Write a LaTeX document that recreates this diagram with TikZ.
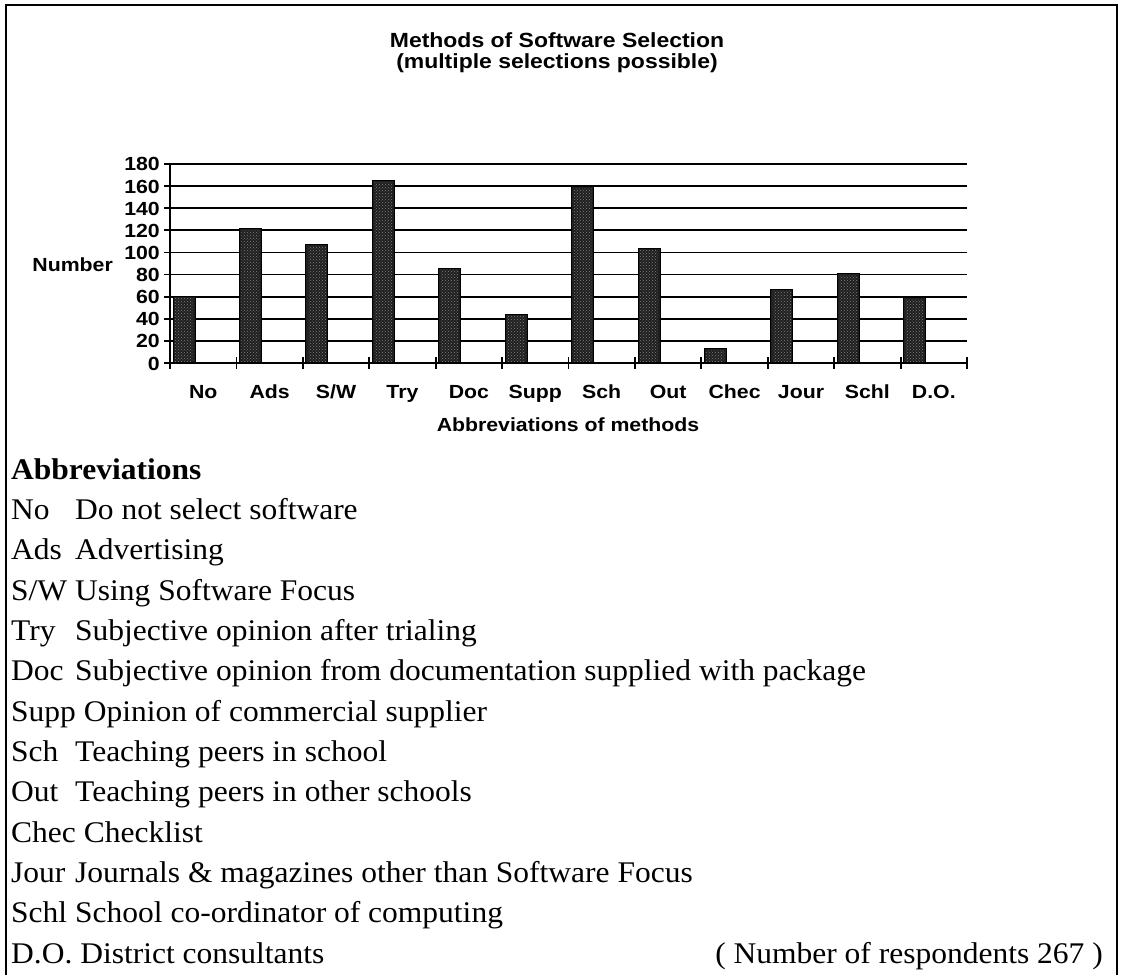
\documentclass[tikz,border=0pt]{standalone}
\usepackage{fontspec}
\setmainfont{Liberation Serif}[FakeStretch=1.05]
\newfontfamily\chartfont{Liberation Sans}[FakeStretch=1.12]
\usetikzlibrary{patterns}
\tikzset{
  frame/.style={line width=2pt},
  grid/.style={line width=1.8pt},
  bar/.style={fill=black!88, draw=black, line width=0.8pt},
  bartex/.style={pattern=crosshatch dots, pattern color=black!50},
  charttext/.style={font=\chartfont\bfseries\fontsize{19}{22}\selectfont, inner sep=0pt},
  titletext/.style={font=\chartfont\bfseries\fontsize{20.5}{23}\selectfont, inner sep=0pt, anchor=base},
  legtext/.style={font=\fontsize{30}{34}\selectfont, inner sep=0pt, anchor=base west},
  leghead/.style={font=\bfseries\fontsize{30}{34}\selectfont, inner sep=0pt, anchor=base west},
}
\begin{document}
\begin{tikzpicture}[x=1pt,y=-1pt]
\useasboundingbox (0,0) rectangle (1123,975);
\fill[white] (0,0) rectangle (1123,975);
% frame
\draw[frame] (6,975) -- (6,5) -- (1117,5) -- (1117,975);
% title
\node[titletext] (t1) at (557,47) {Methods of Software Selection};
\node[titletext] (t2) at (557,68) {(multiple selections possible)};
% grid
\foreach \v in {20,40,...,180}{
  \draw[grid] (170,{363-\v*1.1056}) -- (967,{363-\v*1.1056});
}
\foreach \v in {0,20,...,180}{
  \draw[grid] (164,{363-\v*1.1056}) -- (170,{363-\v*1.1056});
  \node[charttext, anchor=base east] (yl\v) at (160,{363-\v*1.1056+7}) {\v};
}
% bars and labels
\foreach \i/\val/\lab in {0/60/No,1/122/Ads,2/107/S\slash W,3/165/Try,4/86/Doc,5/44/Supp,6/160/Sch,7/104/Out,8/13/Chec,9/67/Jour,10/81/Schl,11/59/D.O.}{
  \draw[bar] ({170+66.42*\i+3},363) rectangle ({170+66.42*\i+25},{363-\val*1.1056});
  \fill[bartex] ({170+66.42*\i+5},361) rectangle ({170+66.42*\i+23},{363-\val*1.1056+2});
  \node[charttext, anchor=base] (xl\i) at ({170+66.42*\i+33.2},398) {\lab};
}
% axes
\draw[grid] (170,164) -- (170,363) -- (967,363);
\foreach \k in {0,...,12}{
  \draw[grid] ({170+66.42*\k},357) -- ({170+66.42*\k},369);
}
\node[charttext, anchor=base east] (ylab) at (113,271) {Number};
\node[charttext, anchor=base] (xlab) at (568,431) {Abbreviations of methods};
% legend
\node[leghead] (abh) at (11,479) {Abbreviations};
\newcommand\legline[4]{%
  \node[legtext] (#1a) at (11,#2) {#3};
  \node[legtext] (#1d) at (75,#2) {#4};}
\legline{no}{519}{No}{Do not select software}
\legline{ads}{559}{Ads}{Advertising}
\legline{sw}{600}{S/W}{Using Software Focus}
\legline{try}{640}{Try}{Subjective opinion after trialing}
\legline{doc}{680}{Doc}{Subjective opinion from documentation supplied with package}
\node[legtext] (supp) at (11,721) {Supp Opinion of commercial supplier};
\legline{sch}{761}{Sch}{Teaching peers in school}
\legline{out}{801}{Out}{Teaching peers in other schools}
\node[legtext] (chec) at (11,842) {Chec Checklist};
\legline{jour}{882}{Jour}{Journals \& magazines other than Software Focus}
\legline{schl}{922}{Schl}{School co-ordinator of computing}
\node[legtext] (do) at (11,963) {D.O. District consultants};
\node[legtext, anchor=base east] (resp) at (1103,963) {( Number of respondents 267 )};
\end{tikzpicture}
\end{document}
